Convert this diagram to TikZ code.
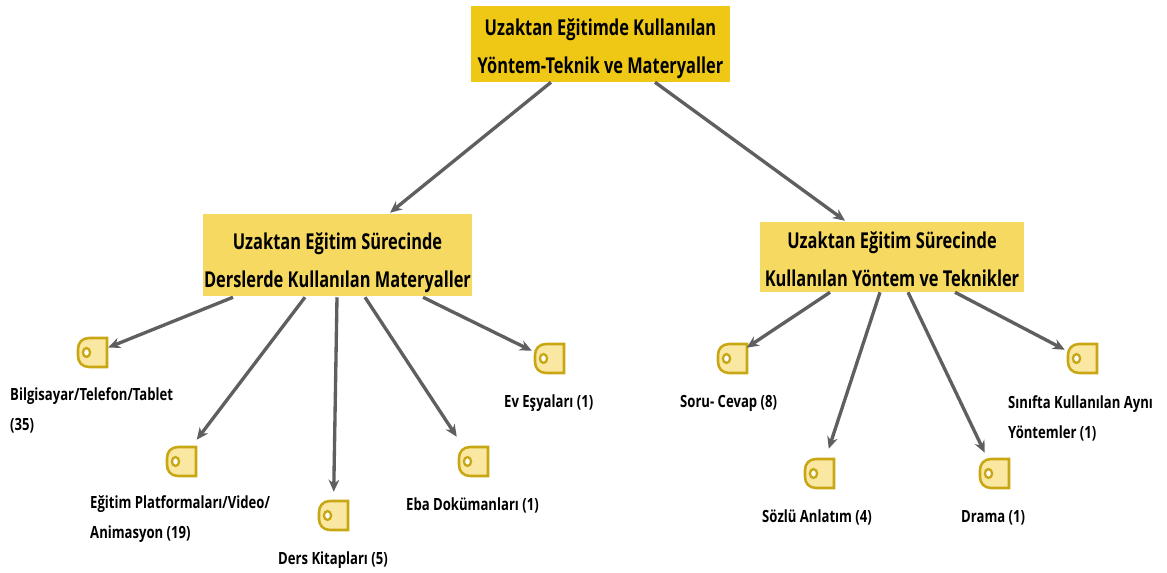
\documentclass[tikz,border=0pt]{standalone}
\usepackage{fontspec}
\setmainfont{Open Sans}
\usetikzlibrary{arrows.meta}
\definecolor{rootc}{HTML}{EEC815}
\definecolor{subc}{HTML}{F5D961}
\definecolor{tagfill}{HTML}{F9E7A2}
\definecolor{tagline}{HTML}{C9A714}
\definecolor{linkc}{HTML}{5F5F5F}
\tikzset{
  rootbox/.style={fill=rootc,minimum width=259*0.75pt,minimum height=76*0.75pt,inner sep=0pt},
  subbox/.style={fill=subc,inner sep=0pt},
  head/.style={font=\bfseries\fontsize{16.4}{28.8}\selectfont,align=center,xscale=0.75,text=black},
  lab/.style={font=\bfseries\fontsize{12.6}{22.5}\selectfont,align=left,anchor=north west,inner sep=0pt,xscale=0.78,text=black},
  tagbox/.style={minimum size=31*0.75pt,inner sep=0pt},
  link/.style={draw=linkc,line width=2.5pt,-{Stealth[length=9pt,width=8pt]}},
}
\newcommand{\tagicon}[3]{%
  \node[tagbox] (#1) at (#2+15.5,#3+15.5) {};
  \draw[tagline,fill=tagfill,line width=1.9pt,miter limit=4] (#2+30,#3+1) -- (#2+30,#3+30) -- (#2+12,#3+30) .. controls (#2+5,#3+30) and (#2+1,#3+25) .. (#2+1,#3+19) -- (#2+1,#3+12) .. controls (#2+1,#3+6) and (#2+5,#3+1) .. (#2+12,#3+1) -- cycle;
  \draw[tagline,fill=white,line width=1.7pt] (#2+9.5,#3+15.5) ellipse[x radius=3.6,y radius=4.4];
}
\begin{document}
\begin{tikzpicture}[x=0.75pt,y=-0.75pt]
\useasboundingbox (0,0) rectangle (1167,573);
\node[rootbox] (root) at (600.5,44) {};
\node[head] (roott) at (600.5,49) {Uzaktan Eğitimde Kullanılan\\Yöntem-Teknik ve Materyaller};
\node[subbox,minimum width=269*0.75pt,minimum height=82*0.75pt] (lb) at (337.5,255) {};
\node[head] at (337.5,262.5) {Uzaktan Eğitim Sürecinde\\Derslerde Kullanılan Materyaller};
\node[subbox,minimum width=264*0.75pt,minimum height=70*0.75pt] (rb) at (892,257) {};
\node[head] at (892,259) {Uzaktan Eğitim Sürecinde\\Kullanılan Yöntem ve Teknikler};
\tagicon{a}{77}{337}
\tagicon{b}{166}{446}
\tagicon{c}{318}{500}
\tagicon{d}{458}{446}
\tagicon{e}{534}{343}
\tagicon{f}{717}{343}
\tagicon{g}{804}{458}
\tagicon{h}{979}{458}
\tagicon{i}{1067}{343}
\node[lab] at (10,387) {Bilgisayar/Telefon/Tablet\\(35)};
\node[lab] at (90,495) {Eğitim Platformaları/Video/\\Animasyon (19)};
\node[lab] at (278,551) {Ders Kitapları (5)};
\node[lab] at (406,497) {Eba Dokümanları (1)};
\node[lab] at (504,394) {Ev Eşyaları (1)};
\node[lab] at (680,395) {Soru- Cevap (8)};
\node[lab] at (762,509) {Sözlü Anlatım (4)};
\node[lab] at (961,510) {Drama (1)};
\node[lab] at (1008,395) {Sınıfta Kullanılan Aynı\\Yöntemler (1)};
\draw[link] ([shift={(-49.5,0)}]root.south) -- ([shift={(52.5,-1)}]lb.north);
\draw[link] ([shift={(54.5,0)}]root.south) -- ([shift={(-47,-1)}]rb.north);
\draw[link] ([shift={(-104.5,1)}]lb.south) -- ([shift={(0,-5)}]a.east);
\draw[link] ([shift={(-32.5,1)}]lb.south) -- ([shift={(31,-6)}]b.north west);
\draw[link] ([shift={(-0.5,1)}]lb.south) -- ([shift={(16,-8)}]c.north west);
\draw[link] ([shift={(27.5,1)}]lb.south) -- ([shift={(-1,-9)}]d.north west);
\draw[link] ([shift={(85.5,1)}]lb.south) -- ([shift={(-2,8)}]e.north west);
\draw[link] ([shift={(-62,0)}]rb.south) -- ([shift={(30,5)}]f.north west);
\draw[link] ([shift={(-12,0)}]rb.south) -- ([shift={(25,-9)}]g.north west);
\draw[link] ([shift={(16,0)}]rb.south) -- ([shift={(6,-5)}]h.north west);
\draw[link] ([shift={(63,0)}]rb.south) -- ([shift={(-2,7)}]i.north west);
\end{tikzpicture}
\end{document}
